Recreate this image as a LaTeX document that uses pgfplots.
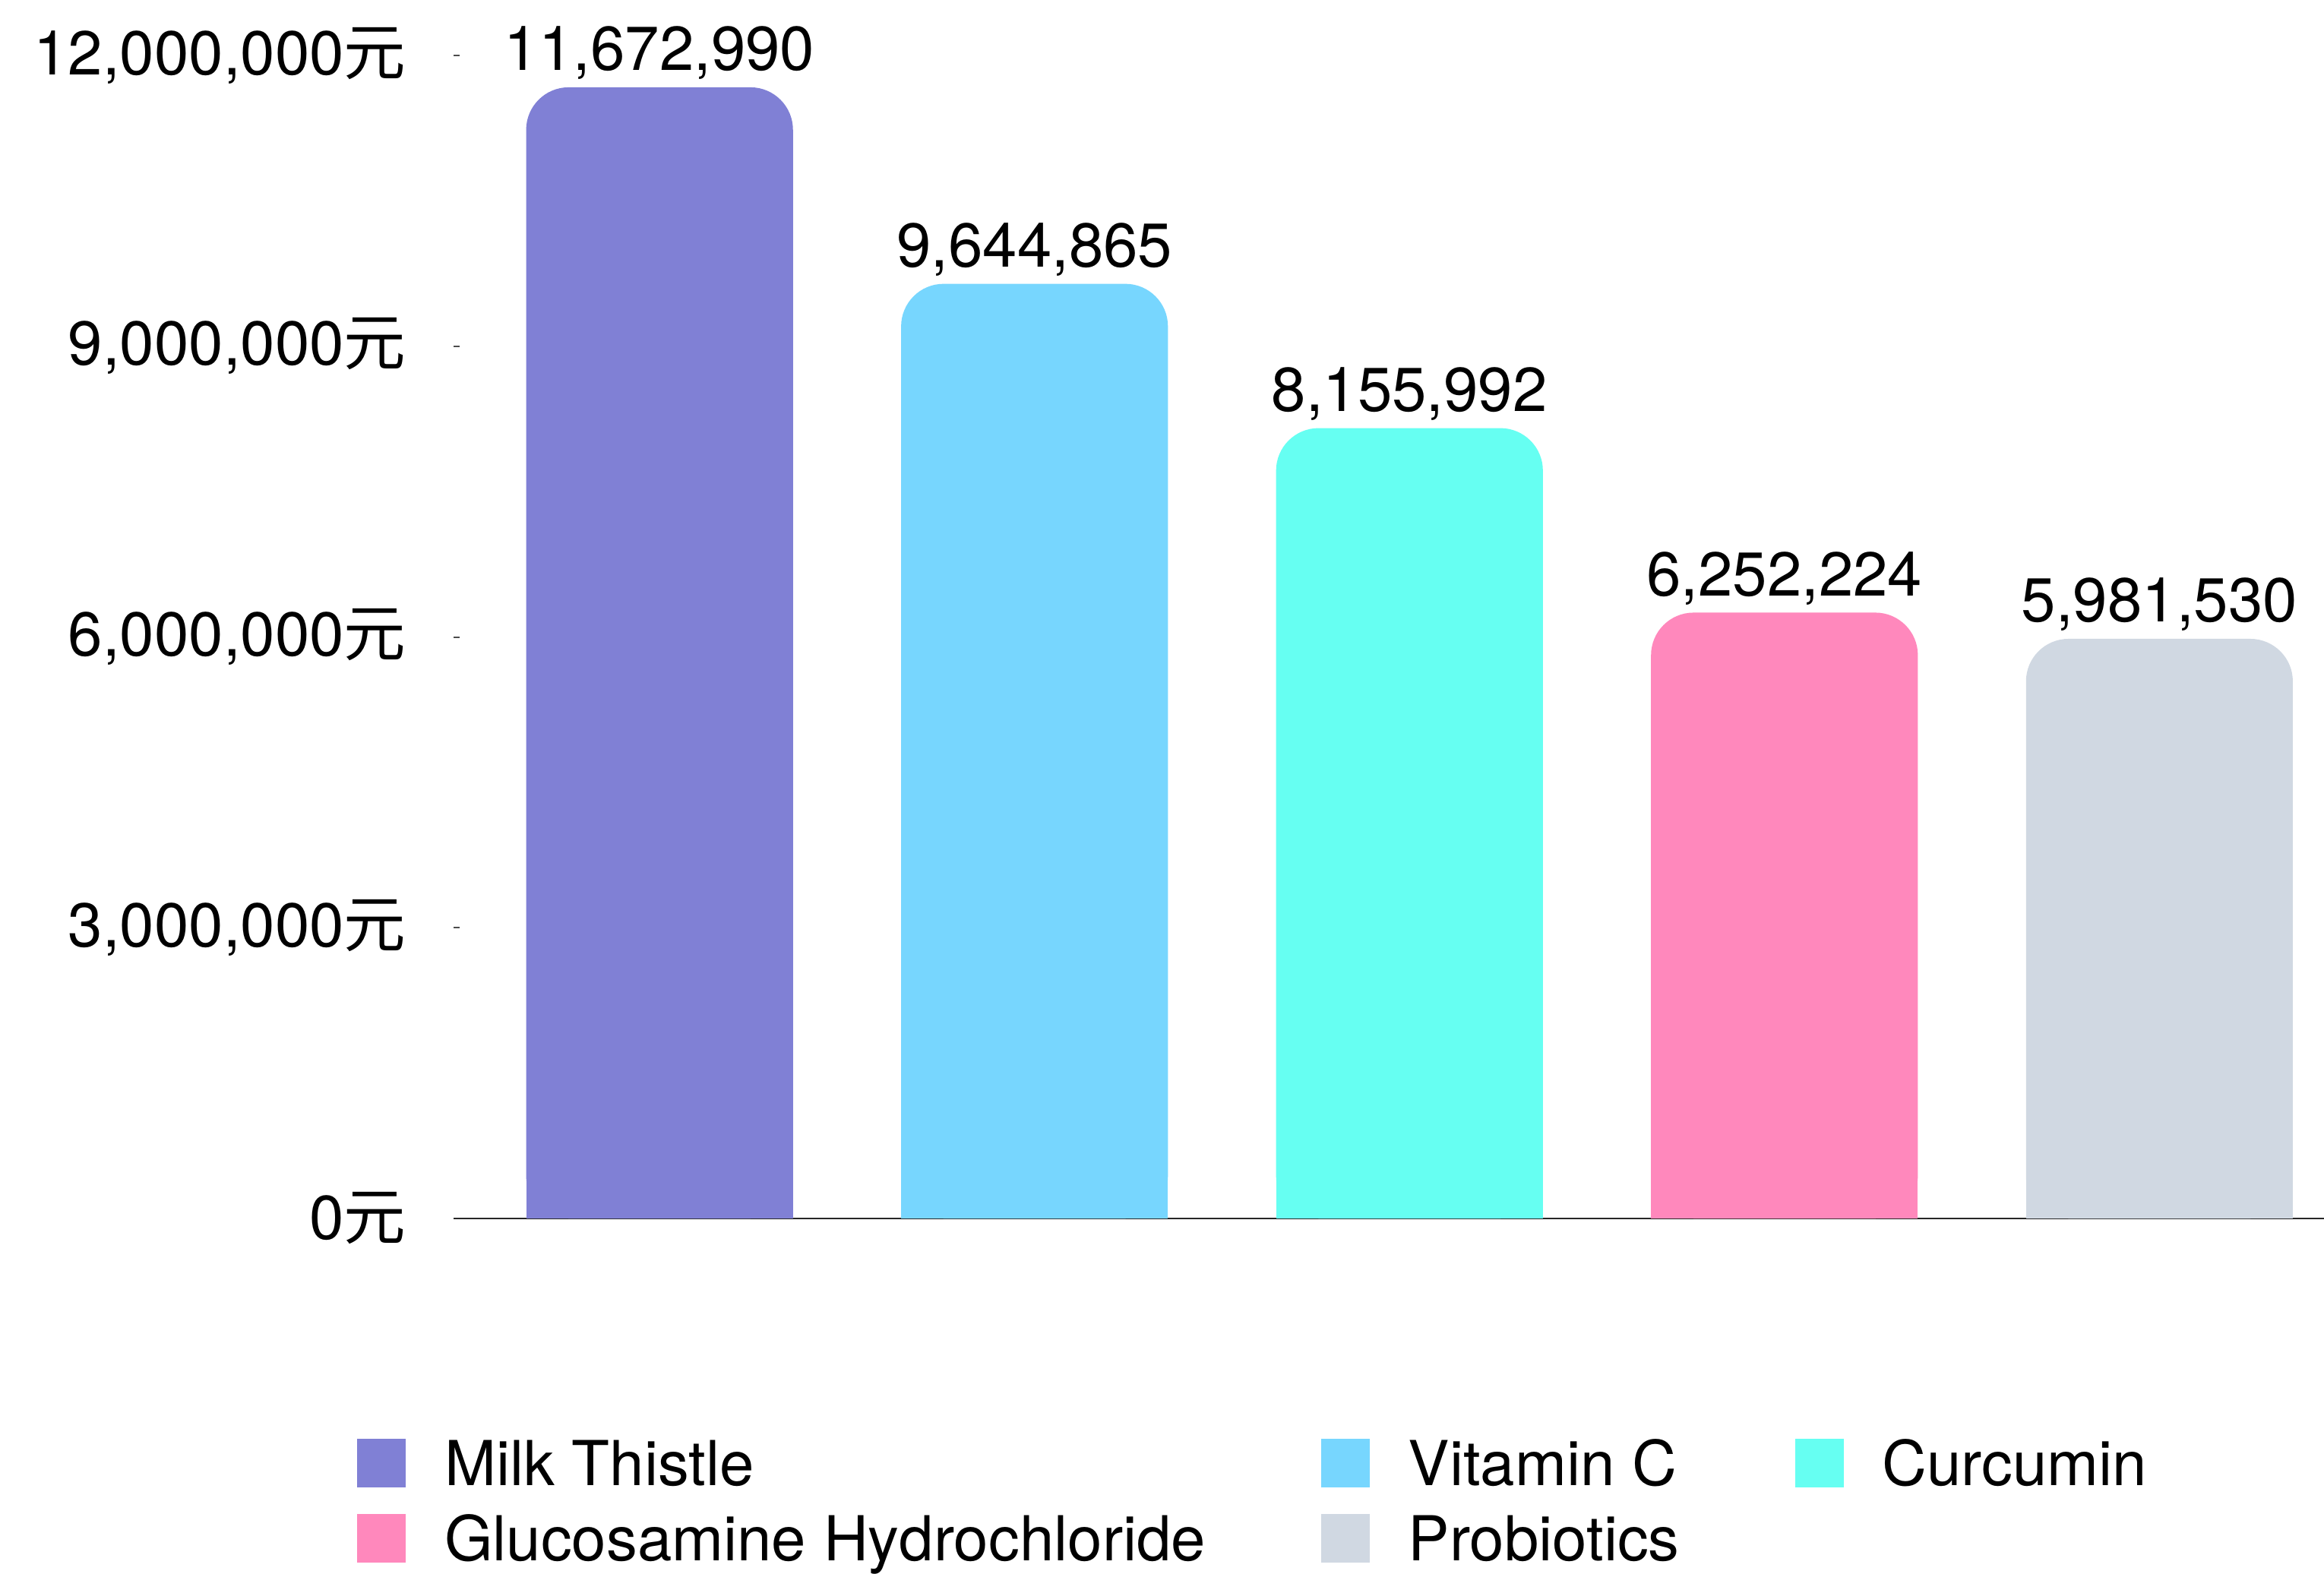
\documentclass[border=0pt]{standalone}
\usepackage{fontspec}
\setmainfont{TeX Gyre Heros}
\newfontfamily\cjk{Noto Sans CJK SC}
\usepackage{pgfplots}
\pgfplotsset{compat=1.18}
\definecolor{cMilk}{RGB}{128,128,213}
\definecolor{cVitC}{RGB}{119,214,254}
\definecolor{cCurc}{RGB}{102,255,242}
\definecolor{cGluc}{RGB}{255,136,188}
\definecolor{cProb}{RGB}{208,216,226}
\begin{document}
\begin{tikzpicture}
\useasboundingbox (0,0) rectangle (764.75pt,517.75pt);
\begin{axis}[
  at={(149.3pt,116.75pt)}, anchor=south west,
  scale only axis, width=615.45pt, height=382.7pt,
  xmin=-0.549, xmax=4.439, ymin=0, ymax=12000000,
  enlargelimits=false, clip=false,
  ybar,
  xtick=\empty,
  ytick={0,3000000,6000000,9000000,12000000},
  scaled y ticks=false,
  /pgf/number format/assume math mode=true,
  yticklabel={\pgfmathprintnumber[fixed,precision=0,1000 sep={,},assume math mode=true]{\tick}{\cjk 元}},
  yticklabel style={anchor=east, inner sep=0pt, xshift=-15.5pt},
  every tick label/.append style={font=\fontsize{20.4}{24}\selectfont},
  axis lines*=left,
  y axis line style={draw=none},
  x axis line style={draw=black!85, line width=0.7pt},
  tick align=inside,
  major tick length=2pt,
  ytick style={draw=black!70, line width=0.5pt},
  point meta=explicit symbolic,
  nodes near coords,
  nodes near coords style={font=\fontsize{20.4}{24}\selectfont, anchor=base, inner sep=0pt, yshift=5.6pt, text=black},
  legend columns=3,
  legend cell align=left,
  legend style={at={(-0.0515,-0.1895)}, anchor=north west, draw=none, fill=none, inner sep=0pt, outer sep=0pt,
    font=\fontsize{20.4}{24}\selectfont, row sep=8.4pt,
    nodes={inner sep=0pt},
    /tikz/every odd column/.append style={column sep=12.7pt},
    /tikz/every even column/.append style={column sep=38pt, nodes={text height=15pt, text depth=1pt}}},
  legend image code/.code={\fill[#1,sharp corners,draw=none] (0pt,-7.6pt) rectangle (16pt,8.4pt);},
]
% bottom covers (square bottom corners)
\addplot[bar shift=0pt, bar width=87.8pt, fill=cMilk, draw=none, forget plot, nodes near coords={}] coordinates {(0,2000000) []};
\addplot[bar shift=0pt, bar width=87.8pt, fill=cVitC, draw=none, forget plot, nodes near coords={}] coordinates {(1,2000000) []};
\addplot[bar shift=0pt, bar width=87.8pt, fill=cCurc, draw=none, forget plot, nodes near coords={}] coordinates {(2,2000000) []};
\addplot[bar shift=0pt, bar width=87.8pt, fill=cGluc, draw=none, forget plot, nodes near coords={}] coordinates {(3,2000000) []};
\addplot[bar shift=0pt, bar width=87.8pt, fill=cProb, draw=none, forget plot, nodes near coords={}] coordinates {(4,2000000) []};
% main bars
\addplot[bar shift=0pt, bar width=87.8pt, fill=cMilk, draw=none, rounded corners=14pt] coordinates {(0,11672990) [11,672,990]};
\addlegendentry{Milk Thistle}
\addplot[bar shift=0pt, bar width=87.8pt, fill=cVitC, draw=none, rounded corners=14pt] coordinates {(1,9644865) [9,644,865]};
\addlegendentry{Vitamin C}
\addplot[bar shift=0pt, bar width=87.8pt, fill=cCurc, draw=none, rounded corners=14pt] coordinates {(2,8155992) [8,155,992]};
\addlegendentry{Curcumin}
\addplot[bar shift=0pt, bar width=87.8pt, fill=cGluc, draw=none, rounded corners=14pt] coordinates {(3,6252224) [6,252,224]};
\addlegendentry{Glucosamine Hydrochloride}
\addplot[bar shift=0pt, bar width=87.8pt, fill=cProb, draw=none, rounded corners=14pt] coordinates {(4,5981530) [5,981,530]};
\addlegendentry{Probiotics}
\end{axis}
\end{tikzpicture}
\end{document}
